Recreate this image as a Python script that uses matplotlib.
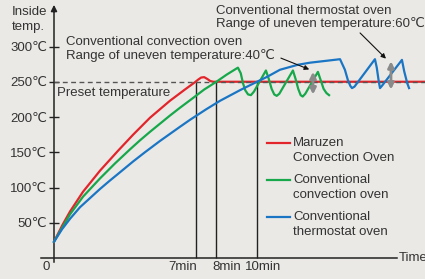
import matplotlib
matplotlib.use("Agg")
import matplotlib.pyplot as plt
from matplotlib.lines import Line2D
from matplotlib.transforms import offset_copy

plt.rcParams['font.family'] = ['Liberation Sans', 'DejaVu Sans']

# ---------------- data (time in min, temperature in °C) ----------------
red_t = [0, 0.4, 0.79, 1.43, 2.27, 3.15, 3.9, 4.73, 5.71, 6.45, 6.95, 7.1, 7.25, 7.4, 7.55, 7.7, 7.85, 18.3]
red_T = [23, 46, 66, 94, 124, 152, 175, 199, 223, 239, 249.5, 253, 256, 256.5, 254, 251, 250, 250]

green_t = [0, 0.4, 0.79, 1.43, 2.27, 3.0, 3.74, 4.24, 4.73, 5.71, 6.2, 6.85, 7.4, 8.0, 8.5, 9.06,
           9.2, 9.31, 9.42, 9.56, 9.7, 9.85, 10.44,
           10.58, 10.72, 10.85, 10.97, 11.1, 11.77,
           11.9, 12.03, 12.15, 12.25, 12.38, 13.0,
           13.14, 13.28, 13.42, 13.55]
green_T = [23, 43, 62, 87, 113, 134, 154, 167, 179, 202, 213, 227, 239, 250, 260, 270,
           262, 248, 238, 232, 231, 236, 266,
           254, 240, 232, 230, 233, 266,
           254, 240, 231, 229, 233, 264,
           252, 240, 234, 231]

blue_t = [0, 0.4, 0.8, 1.28, 2.27, 2.76, 3.1, 3.9, 4.48, 5.22, 6.2, 6.7, 7.5, 8.18, 9.16, 10.0,
          10.5, 11.13, 12.0, 12.6, 13.5, 14.09,
          14.33, 14.48, 14.6, 14.68, 14.8, 15.81,
          15.9, 16.0, 16.06, 16.15, 17.14,
          17.25, 17.4, 17.49]
blue_T = [23, 41, 56, 72, 98, 110, 118, 137, 150, 166, 186, 196, 211, 223, 238, 250,
          257, 267, 274, 277, 280, 282,
          267, 252, 244, 241, 243, 282,
          270, 250, 241, 244, 281,
          265, 248, 241]

preset_temp = 250
marker_times = [0, 7, 8, 10]
marker_labels = ['0', '7min', '8min', '10min']
y_ticks = [50, 100, 150, 200, 250, 300]
y_tick_labels = ['50℃', '100℃', '150℃', '200℃', '250℃', '300℃']
range_green = (12.76, 268, 228)   # time, top, bottom
range_blue = (16.6, 283, 235)
series_names = ['Maruzen\nConvection Oven', 'Conventional\nconvection oven', 'Conventional\nthermostat oven']

# ---------------- layout ----------------
W, H = 425, 279
ORIGIN_X, ORIGIN_Y = 54, 258       # pixel position of (0 min, 0 °C)
PX_MIN, PX_DEG = 20.3, 0.705

RED, GREEN, BLUE = '#e2242b', '#16a84a', '#1a76c4'
TXT = '#333333'
AX = '#222222'
BG = '#ebe9e6'
FS = 9.5

fig = plt.figure(figsize=(W / 100, H / 100), dpi=100, facecolor=BG)
ax = fig.add_axes([0, 0, 1, 1])
ax.set_facecolor(BG)
ax.set_xlim(-ORIGIN_X / PX_MIN, (W - ORIGIN_X) / PX_MIN)
ax.set_ylim((ORIGIN_Y - H) / PX_DEG, ORIGIN_Y / PX_DEG)

for s in ['top', 'right']:
    ax.spines[s].set_visible(False)
ax.spines['left'].set_position(('data', 0))
ax.spines['bottom'].set_position(('data', 0))
ax.spines['left'].set_bounds(-6, 352)
ax.spines['bottom'].set_bounds(-0.64, 16.9)
for s in ['left', 'bottom']:
    ax.spines[s].set_color(AX)
    ax.spines[s].set_linewidth(1.1)

ax.set_xticks([])
ax.set_yticks(y_ticks)
ax.set_yticklabels(y_tick_labels)
ax.tick_params(axis='y', direction='inout', length=6.5, width=1, pad=1.5,
               labelsize=FS, colors=AX, labelcolor=TXT)

# y-axis arrow head
ax.annotate('', xy=(0, 363), xytext=(0, 345),
            arrowprops=dict(arrowstyle='-|>', color=AX, lw=1.1, mutation_scale=9),
            annotation_clip=False)

# vertical marker lines
ax.vlines(marker_times[1:], 0, preset_temp, color=AX, lw=1)

# curves
ax.plot(red_t, red_T, color=RED, lw=1.6, zorder=3, solid_joinstyle='round')
ax.plot([0, ax.get_xlim()[1]], [preset_temp, preset_temp], color='#555555', lw=1,
        ls=(0, (3.5, 2.5)), zorder=4)
ax.plot(green_t, green_T, color=GREEN, lw=1.6, zorder=5, solid_joinstyle='round')
ax.plot(blue_t, blue_T, color=BLUE, lw=1.6, zorder=5, solid_joinstyle='round')

# range arrows
for (tt, top, bot) in [range_green, range_blue]:
    ax.annotate('', xy=(tt, top), xytext=(tt, bot),
                arrowprops=dict(arrowstyle='<|-|>', color='#8a8a8a', lw=2, mutation_scale=9),
                zorder=6)

# annotation pointers
ax.annotate('', xy=(12.7, 266), xytext=(11.05, 285),
            arrowprops=dict(arrowstyle='-|>', color='#111111', lw=0.8, mutation_scale=7), zorder=7)
ax.annotate('', xy=(16.45, 280), xytext=(14.98, 322),
            arrowprops=dict(arrowstyle='-|>', color='#111111', lw=0.8, mutation_scale=7), zorder=7)

# x labels
x_offsets = [-8, -13, 10, 6]
for tval, lab, dx in zip(marker_times, marker_labels, x_offsets):
    tr = offset_copy(ax.transData, fig=fig, x=dx, y=-9.5, units='dots')
    ax.text(tval, 0, lab, transform=tr, ha='center', va='center', fontsize=FS, color=TXT)


def ptext(x, y, s, **kw):
    kw.setdefault('fontsize', FS)
    kw.setdefault('color', TXT)
    kw.setdefault('va', 'center')
    kw.setdefault('ha', 'left')
    fig.text(x / W, 1 - y / H, s, **kw)


ptext(12, 12, 'Inside')
ptext(12, 27, 'temp.')
ptext(399, 258, 'Time')
ptext(57, 93, 'Preset temperature')
ptext(66, 42, 'Conventional convection oven')
ptext(66, 56, 'Range of uneven temperature:40℃')
ptext(216, 11, 'Conventional thermostat oven')
ptext(216, 24, 'Range of uneven temperature:60℃')

# legend
leg_y = [143, 180, 217]
for yy, col, name in zip(leg_y, [RED, GREEN, BLUE], series_names):
    fig.add_artist(Line2D([267 / W, 290 / W], [1 - yy / H, 1 - yy / H],
                          transform=fig.transFigure, color=col, lw=1.6))
    l1, l2 = name.split('\n')
    ptext(293, yy, l1)
    ptext(293, yy + 15, l2)

fig.savefig('out.png', dpi=100, facecolor=BG)
